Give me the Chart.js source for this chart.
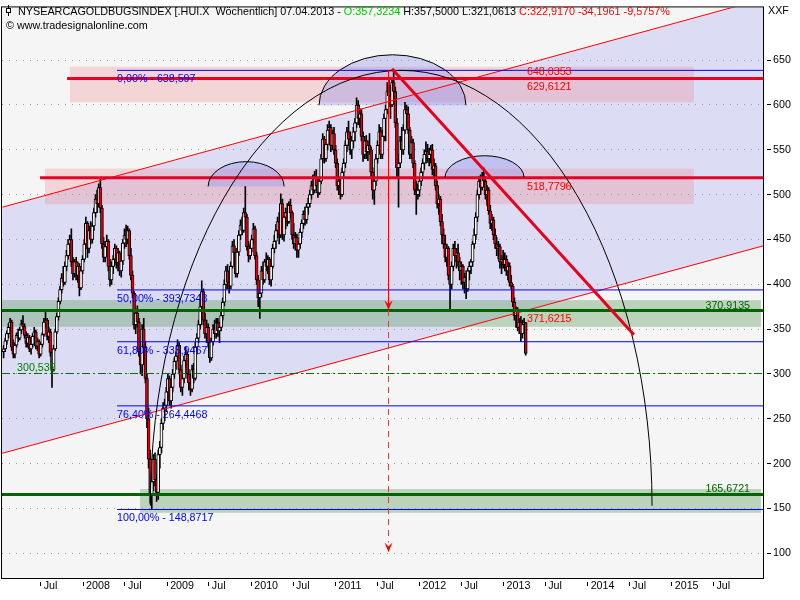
<!DOCTYPE html>
<html>
<head>
<meta charset="utf-8">
<script src="https://cdn.jsdelivr.net/npm/chart.js@4.4.1/dist/chart.umd.min.js"></script>
<style>
html,body{margin:0;padding:0;background:#fff}
#wrap{width:800px;height:600px}
</style>
</head>
<body>
<div id="wrap"><canvas id="c" width="800" height="600"></canvas></div>
<script>
// weekly bars of the HUI, first bar dated 21.01.2007, last 07.04.2013
const START = Date.UTC(2007, 0, 21);
const WEEK = 7 * 864e5;

const opens = [
 325,328, 337,345,352,358, 330,322,332,343, 340,349,356,353,343, 334,341,328,333, 342,347,331,336,
 322,333,344,358,360, 342,347,324,305, 328,347,364,381,394, 407,402,420,432, 445,450,425,412, 425,410,420,396,415,
 428,445,468,440, 460,450,465,480, 495,490,508,485,445, 430,442,448,420, 405,420,428,440, 424,435,415,426,446,
 455,450,460,432, 410,390,355,368,358, 325,310,350,330, 295,250,205,165, 180,205,182,168,210, 218,245,262,265,
 280,295,270,285, 300,314,320,332, 305,285,295,315,322, 300,290,283,305, 295,330,340,355,375, 392,360,345,352,
 335,318,336,350, 345,357,348,352,365, 380,400,415,402, 398,420,443,435, 412,436,455,466,460, 480,475,442,432,
 440,450,462,432,405, 385,390,415,405, 425,420,428,405, 420,440,448,460, 470,455,490,455,475, 480,470,488,480,
 455,445,452,438, 445,458,468,478,472, 486,490,500,510, 505,520,510,502,515, 540,562,540,556, 572,575,555,568,
 550,535,510,515,500, 525,535,555,570, 562,550,560,570, 580,600,585,590, 565,545,560,548,555, 550,525,505,515,
 540,555,570,545,565, 585,595,615,610, 600,625,615,580, 530,535,560,550,572, 595,590,572,545, 558,535,505,500,
 505,515,525,535,545, 548,540,545,550, 528,532,510,490, 495,470,455,445,430, 440,410,400,420, 440,432,435,425,
 415,420,402,408,395, 415,420,425,445, 455,475,500,515,508, 520,515,500,505, 482,468,472,455, 445,440,442,425,428,
 422,428,415,420, 402,398,380,365, 370,352,358,345,355, 357.32
];
const highs = [
 332,340, 348,356,362,360, 338,335,346,350, 352,360,365,356,347, 345,343,336,345, 352,349,340,338,
 335,346,362,371,362, 352,350,328,332, 350,368,385,398,412, 420,425,438,450, 455,462,430,428, 430,425,423,418,432,
 450,475,470,465, 470,468,485,500, 505,512,519,488,452, 448,455,450,428, 425,432,445,443, 440,437,430,450,462,
 466,465,462,440, 415,392,372,376,362, 335,355,362,336, 300,262,215,190, 210,212,188,215,225, 250,268,272,285,
 300,298,290,305, 318,325,338,335, 310,300,320,330,325, 305,300,310,312, 335,345,360,380,404, 395,368,360,356,
 340,340,355,360, 362,362,358,370,385, 405,420,422,415, 425,448,450,440, 440,460,472,475,485, 509,478,448,445,
 455,468,465,436,410, 395,420,425,428, 435,432,430,425, 445,455,467,475, 480,501,495,480,485, 490,492,495,482,
 468,458,456,448, 462,472,482,486,490, 496,505,515,522, 526,528,518,520,545, 568,565,560,578, 582,578,572,575,
 555,540,520,518,530, 540,560,575,582, 570,565,575,585, 608,605,596,595, 570,565,566,560,568, 553,530,520,545,
 560,578,575,572,590, 600,625,630,622, 630,638.6,620,585, 545,565,575,578,603, 600,598,575,565, 562,538,515,512,
 520,530,540,550,559, 556,552,555,556, 540,535,515,500, 498,478,462,455,445, 442,415,425,445, 448,440,445,430,
 425,422,412,415,418, 425,428,448,462, 480,505,520,522,525, 530,520,510,508, 488,478,475,462, 452,448,445,432,438,
 435,432,425,424, 410,400,385,375, 374,362,364,360,362, 357.5
];
const lows = [
 318,325, 333,340,348,326, 318,318,330,336, 338,345,350,340,330, 330,325,322,330, 338,328,326,318,
 320,330,342,352,338, 335,320,285,303, 326,345,360,378,390, 398,400,415,428, 438,420,405,408, 405,402,387,394,412,
 425,440,430,435, 445,446,460,475, 480,486,480,440,425, 425,432,415,398, 400,412,422,418, 415,410,408,422,440,
 442,445,428,405, 385,350,345,352,320, 300,298,320,290, 240,195,156,148.9, 170,175,158,160,195, 212,238,248,258,
 275,265,262,280, 295,305,315,300, 280,276,290,308,295, 282,276,280,290, 293,322,335,350,370, 355,340,335,330,
 313,315,332,340, 340,342,335,348,360, 376,395,395,390, 395,418,430,408, 408,432,450,455,458, 470,438,425,428,
 436,445,428,400,375, 362,386,400,402, 415,412,400,398, 418,435,440,452, 445,452,450,448,462, 465,468,475,450,
 440,438,430,430, 440,452,462,466,468, 478,486,495,500, 502,505,497,500,512, 536,535,537,550, 560,548,550,545,
 530,505,500,495,498, 520,530,548,555, 545,540,552,560, 575,578,575,560, 537,540,540,538,545, 520,495,489,510,
 535,550,540,540,560, 560,590,598,585, 598,610,575,520, 486,530,545,545,568, 575,568,540,540, 530,500,478,495,
 498,510,520,528,535, 536,532,535,522, 520,505,485,478, 465,445,440,425,420, 405,371.6,395,415, 425,418,420,405,
 400,395,390,384,392, 405,412,420,440, 450,470,495,500,505, 510,495,488,478, 462,460,450,440, 432,428,418,412,418,
 415,410,405,398, 395,375,360,352, 348,345,336,340,350, 321.06
];
const closes = [
 328,337, 345,352,358,330, 322,332,343,340, 349,356,353,343,334, 341,328,333,342, 347,331,336,322,
 333,344,358,360,342, 347,324,305,328, 347,364,381,394,407, 402,420,432,445, 450,425,412,425, 410,420,396,415,428,
 445,468,440,460, 450,465,480,495, 490,508,485,445,430, 442,448,420,405, 420,428,440,424, 435,415,426,446,455,
 450,460,432,410, 390,355,368,358,325, 310,350,330,295, 250,205,165,180, 205,182,168,210,218, 245,262,265,280,
 295,270,285,300, 314,320,332,305, 285,295,315,322,300, 290,283,305,295, 330,340,355,375,392, 360,345,352,335,
 318,336,350,345, 357,348,352,365,380, 400,415,402,398, 420,443,435,412, 436,455,466,460,480, 475,442,432,440,
 450,462,432,405,385, 390,415,405,425, 420,428,405,420, 440,448,460,470, 455,490,455,475,480, 470,488,480,455,
 445,452,438,445, 458,468,478,472,486, 490,500,510,505, 520,510,502,515,540, 562,540,556,572, 575,555,568,550,
 535,510,515,500,525, 535,555,570,562, 550,560,570,580, 600,585,590,565, 545,560,548,555,550, 525,505,515,540,
 555,570,545,565,585, 595,615,610,600, 625,615,580,530, 535,560,550,572,595, 590,572,545,558, 535,505,500,505,
 515,525,535,545,548, 540,545,550,528, 532,510,490,495, 470,455,445,430,440, 410,400,420,440, 432,435,425,415,
 420,402,408,395,415, 420,425,445,455, 475,500,515,508,520, 515,500,505,482, 468,472,455,445, 440,442,425,428,422,
 428,415,420,402, 398,380,365,370, 352,358,345,355,357.11, 322.92
];

const xTickDates = ['2007-07-01','2008-01-01','2008-07-01','2009-01-01','2009-07-01','2010-01-01','2010-07-01',
  '2011-01-01','2011-07-01','2012-01-01','2012-07-01','2013-01-01','2013-07-01','2014-01-01','2014-07-01',
  '2015-01-01','2015-07-01'];
const xTickLabels = ['Jul','2008','Jul','2009','Jul','2010','Jul','2011','Jul','2012','Jul','2013','Jul','2014','Jul','2015','Jul'];
const yTicks = [100,150,200,250,300,350,400,450,500,550,600,650];

// drawing tools, in decimal years / index points
const fibLevels = [638.597, 393.7343, 335.9467, 264.4468, 148.8717];
const fibLabels = ['0,00% - 638,597','50,00% - 393,7343','61,80% - 335,9467','76,40% - 264,4468','100,00% - 148,8717'];
const fibFrom = 2008.404;
const redLevels = [629.6121, 518.7796];
const redFrom = [2007.809, 2007.488];
const greenLevels = [370.9135, 165.6721];
const dashedLevel = 300.532;
const pinkBands = [[2007.844, 2015.264, 603.0, 642.7], [2007.547, 2015.264, 489.4, 529.1]];
const greenBands = [[2007.0, 2016.06, 352.6, 382.4], [2008.677, 2016.06, 145.2, 171.7]];
const channelTop = [[2007.04, 486.0], [2016.09, 718.3]];
const channelBottom = [[2007.0, 210.6], [2016.09, 443.0]];
const trendLine = [[2011.673, 640.5], [2014.549, 343.8]];
const bigArc = [2008.80, 2014.765, 153.0, 638.6];
const smallArcs = [[2009.487, 2010.390, 509.2, 536.8], [2010.805, 2012.553, 599.7, 656.0], [2012.303, 2013.243, 519.1, 543.4]];
const markerT = 2011.625;
const valueTexts = [
  ['648,0353', 2013.278, 648.0353, 13, '#ff0000'],
  ['629,6121', 2013.278, 629.6121, 12, '#ff0000'],
  ['518,7796', 2013.278, 518.7796, 12, '#ff0000'],
  ['371,6215', 2013.278, 371.6215, 12, '#ff0000'],
  ['370,9135', 2015.40, 370.9135, -1.5, '#006400'],
  ['165,6721', 2015.40, 165.6721, -2.5, '#006400'],
  ['300,532', 2007.214, 300.532, -3, '#008000']
];

const T_MIN = 2007.0357, T_MAX = 2016.0844;
const Y_MIN = 72.47, Y_MAX = 708.8;

function yearFrac(ms) {
  const y = new Date(ms).getUTCFullYear();
  const a = Date.UTC(y, 0, 1), b = Date.UTC(y + 1, 0, 1);
  return y + (ms - a) / (b - a);
}

function hasFont(name) {
  const g = document.createElement('canvas').getContext('2d');
  const s = 'NYSEARCA 0123456789 Wochentlich';
  g.font = '40px monospace';
  const w = g.measureText(s).width;
  g.font = '40px "' + name + '", monospace';
  return Math.abs(g.measureText(s).width - w) > 0.5;
}
const narrow = hasFont('Liberation Sans Narrow');
const FAMILY = narrow ? '"Liberation Sans Narrow", "Liberation Sans", sans-serif' : '"Liberation Sans", Arial, sans-serif';
const K = narrow ? 1 : 0.82;
const fs = s => Math.round(s * K * 10) / 10;
const headerSize = narrow ? 13 : 10.8;

const n = Math.min(opens.length, highs.length, lows.length, closes.length);
const tx = [];
for (let i = 0; i < n; i++) tx.push(yearFrac(START + i * WEEK));
const bodies = tx.map((t, i) => ({x: t, y: [opens[i], closes[i]]}));
const wicks = tx.map((t, i) => ({x: t, y: [lows[i], highs[i]]}));
const bodyColors = tx.map((t, i) => closes[i] < opens[i] ? '#e3000b' : '#ffffff');
const xTicks = xTickDates.map(s => yearFrac(Date.parse(s + 'T00:00:00Z')));

function semiEllipse(ctx, X, Y, a) {
  const x0 = X(a[0]), x1 = X(a[1]), cy = Y(a[2]), ry = cy - Y(a[3]);
  ctx.beginPath();
  ctx.ellipse((x0 + x1) / 2, cy, (x1 - x0) / 2, ry, 0, Math.PI, 2 * Math.PI);
}

function seg(ctx, x0, y0, x1, y1, color, width, dash) {
  ctx.beginPath();
  ctx.strokeStyle = color;
  ctx.lineWidth = width;
  ctx.setLineDash(dash || []);
  ctx.moveTo(x0, y0);
  ctx.lineTo(x1, y1);
  ctx.stroke();
  ctx.setLineDash([]);
}

function arrowDown(ctx, x, yTop, yTip) {
  ctx.beginPath();
  ctx.fillStyle = '#ff0000';
  ctx.moveTo(x - 4, yTop);
  ctx.lineTo(x, yTop + 4);
  ctx.lineTo(x + 4, yTop);
  ctx.lineTo(x, yTip);
  ctx.closePath();
  ctx.fill();
}

const overlay = {
  id: 'overlay',
  beforeDraw(chart) {
    const {ctx, chartArea: a, scales} = chart;
    const X = t => scales.x.getPixelForValue(t), Y = v => scales.y.getPixelForValue(v);
    ctx.save();
    ctx.fillStyle = '#ffffff';
    ctx.fillRect(0, 0, chart.width, chart.height);
    ctx.beginPath();
    ctx.rect(a.left, a.top, a.right - a.left, a.bottom - a.top);
    ctx.clip();
    ctx.fillStyle = '#f5f5f5';
    ctx.fillRect(a.left, a.top, a.right - a.left, a.bottom - a.top);
    // regression channel
    ctx.fillStyle = 'rgb(220,220,245)';
    ctx.beginPath();
    ctx.moveTo(X(channelTop[0][0]), Y(channelTop[0][1]));
    ctx.lineTo(X(channelTop[1][0]), Y(channelTop[1][1]));
    ctx.lineTo(X(channelBottom[1][0]), Y(channelBottom[1][1]));
    ctx.lineTo(X(channelBottom[0][0]), Y(channelBottom[0][1]));
    ctx.closePath();
    ctx.fill();
    // zones
    ctx.fillStyle = 'rgba(240,140,140,0.3)';
    pinkBands.forEach(b => ctx.fillRect(X(b[0]), Y(b[3]), X(b[1]) - X(b[0]), Y(b[2]) - Y(b[3])));
    ctx.fillStyle = 'rgba(100,160,100,0.4)';
    greenBands.forEach(b => ctx.fillRect(X(b[0]), Y(b[3]), X(b[1]) - X(b[0]), Y(b[2]) - Y(b[3])));
    // head and shoulders fills
    ctx.fillStyle = 'rgba(140,140,235,0.35)';
    smallArcs.forEach(s => { semiEllipse(ctx, X, Y, s); ctx.closePath(); ctx.fill(); });
    ctx.restore();
  },
  afterDatasetsDraw(chart) {
    const {ctx, chartArea: a, scales} = chart;
    const X = t => scales.x.getPixelForValue(t), Y = v => scales.y.getPixelForValue(v);
    ctx.save();
    ctx.beginPath();
    ctx.rect(a.left, a.top, a.right - a.left, a.bottom - a.top);
    ctx.clip();
    // channel borders
    seg(ctx, X(channelTop[0][0]), Y(channelTop[0][1]), X(channelTop[1][0]), Y(channelTop[1][1]), '#ff0000', 1);
    seg(ctx, X(channelBottom[0][0]), Y(channelBottom[0][1]), X(channelBottom[1][0]), Y(channelBottom[1][1]), '#ff0000', 1);
    // levels
    fibLevels.forEach(v => seg(ctx, X(fibFrom), Y(v), a.right, Y(v), '#0000ff', 1));
    redLevels.forEach((v, i) => seg(ctx, X(redFrom[i]), Y(v), a.right, Y(v), '#e60026', 3));
    greenLevels.forEach(v => seg(ctx, a.left, Y(v), a.right, Y(v), '#006400', 3));
    seg(ctx, a.left, Y(dashedLevel), a.right, Y(dashedLevel), '#007000', 1, [8, 3, 2, 3]);
    // arcs
    ctx.strokeStyle = '#000';
    ctx.lineWidth = 1;
    [bigArc].concat(smallArcs).forEach(s => { semiEllipse(ctx, X, Y, s); ctx.stroke(); });
    // falling trend line
    seg(ctx, X(trendLine[0][0]), Y(trendLine[0][1]), X(trendLine[1][0]), Y(trendLine[1][1]), '#e8001a', 3);
    // price target marker
    const mx = Math.round(X(markerT)) + 0.5;
    seg(ctx, mx, Y(638.6), mx, Y(376), '#ff0000', 1);
    arrowDown(ctx, mx, Y(382.3), Y(371.3));
    seg(ctx, mx, Y(371.3), mx, Y(112), '#b05050', 1, [6, 5]);
    arrowDown(ctx, mx, Y(112.1), Y(101.1));
    // texts
    ctx.font = fs(13) + 'px ' + FAMILY;
    ctx.textAlign = 'left';
    ctx.textBaseline = 'alphabetic';
    ctx.fillStyle = '#0000ff';
    fibLevels.forEach((v, i) => ctx.fillText(fibLabels[i], X(fibFrom), Y(v) + 12));
    valueTexts.forEach(l => { ctx.fillStyle = l[4]; ctx.fillText(l[0], X(l[1]), Y(l[2]) + l[3]); });
    ctx.restore();
  },
  afterDraw(chart) {
    const {ctx, chartArea: a} = chart;
    ctx.save();
    // frame
    ctx.strokeStyle = '#000';
    ctx.lineWidth = 1;
    ctx.strokeRect(a.left - 0.5, a.top - 0.5, a.right - a.left + 1, a.bottom - a.top + 1);
    // header
    ctx.font = headerSize + 'px ' + FAMILY;
    ctx.textBaseline = 'alphabetic';
    ctx.textAlign = 'left';
    const parts = [
      ['NYSEARCAGOLDBUGSINDEX [.HUI.X  W\u00f6chentlich] 07.04.2013 - ', '#000000'],
      ['O:357,3234', '#00c800'],
      [' H:357,5000 L:321,0613 ', '#000000'],
      ['C:322,9170 -34,1961 -9,5757%', '#ff0000']
    ];
    let x = 18;
    parts.forEach(p => { ctx.fillStyle = p[1]; ctx.fillText(p[0], x, 15); x += ctx.measureText(p[0]).width; });
    ctx.fillStyle = '#000';
    ctx.fillText('\u00a9 www.tradesignalonline.com', 6, 29);
    // candle icon
    seg(ctx, 8.5, 5, 8.5, 16, '#000', 1);
    ctx.fillStyle = '#fff';
    ctx.fillRect(6.5, 8.5, 4, 4);
    ctx.strokeRect(6.5, 8.5, 4, 4);
    ctx.font = fs(13) + 'px ' + FAMILY;
    ctx.fillStyle = '#000';
    ctx.fillText('XXF', a.right + 5, 14);
    ctx.restore();
  }
};

new Chart(document.getElementById('c'), {
  type: 'bar',
  data: {
    datasets: [
      { data: bodies, backgroundColor: bodyColors, borderColor: '#000', borderWidth: 1,
        borderSkipped: false, barThickness: 3, grouped: false },
      { data: wicks, backgroundColor: '#000', borderWidth: 0, barThickness: 1, grouped: false }
    ]
  },
  options: {
    responsive: false,
    devicePixelRatio: 1,
    animation: false,
    events: [],
    layout: { padding: { left: 2, top: 1, right: 0, bottom: 0 } },
    plugins: { legend: { display: false }, tooltip: { enabled: false } },
    scales: {
      x: {
        type: 'linear', min: T_MIN, max: T_MAX, offset: false, bounds: 'data',
        afterBuildTicks: s => { s.ticks = xTicks.map(v => ({ value: v })); },
        afterFit: s => { s.height = 22; },
        grid: { offset: false, drawOnChartArea: false, drawTicks: true, tickLength: 8,
                tickColor: '#000', tickBorderDash: [0, 4, 4, 40] },
        border: { display: false },
        ticks: { autoSkip: false, maxRotation: 0, minRotation: 0, align: 'start', padding: -6,
                 color: '#000', font: { family: FAMILY, size: fs(13) },
                 callback: (v, i) => ' ' + xTickLabels[i] }
      },
      y: {
        type: 'linear', position: 'right', min: Y_MIN, max: Y_MAX, bounds: 'data',
        afterBuildTicks: s => { s.ticks = yTicks.map(v => ({ value: v })); },
        afterFit: s => { s.width = 37; },
        grid: { color: '#9a9a9a', lineWidth: 1, drawTicks: true, tickLength: 9,
                tickColor: '#000', tickBorderDash: [0, 4, 4, 40] },
        border: { display: false, dash: [1, 6] },
        ticks: { padding: 1, color: '#000', font: { family: FAMILY, size: fs(13) },
                 callback: v => String(v) }
      }
    }
  },
  plugins: [overlay]
});
</script>
</body>
</html>
